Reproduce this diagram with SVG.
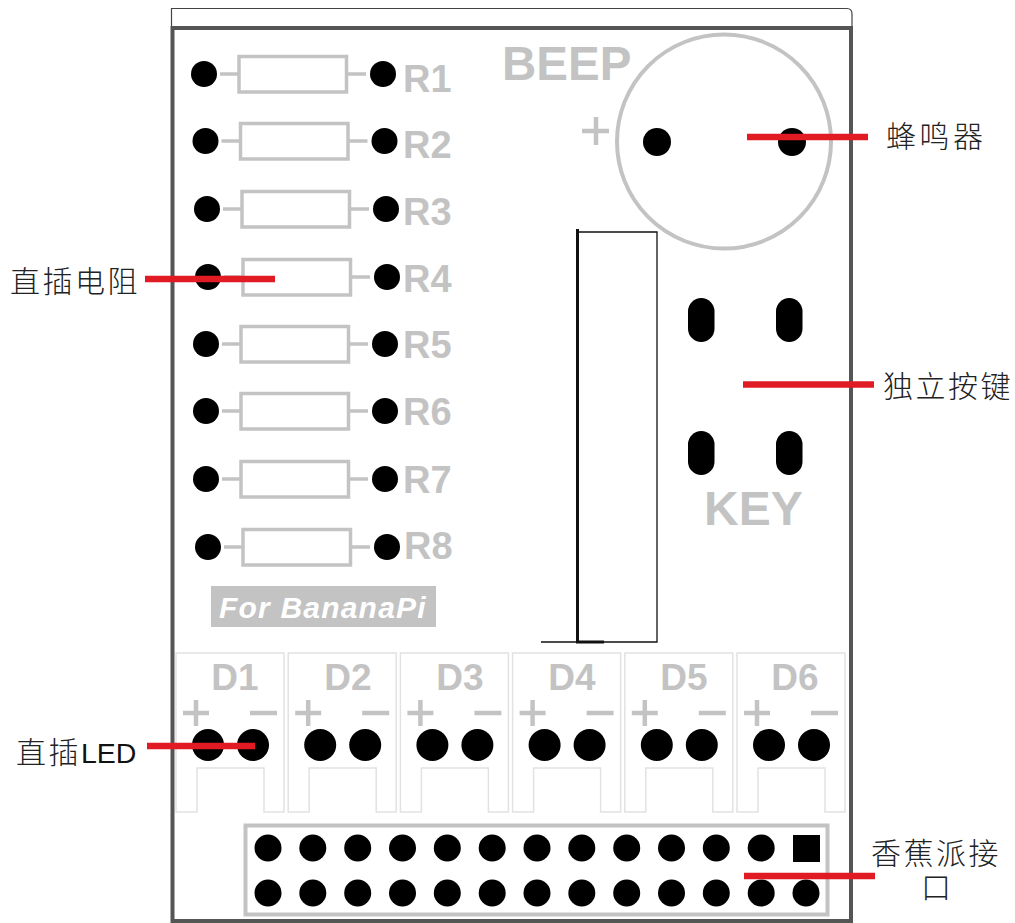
<svg xmlns="http://www.w3.org/2000/svg" width="1015" height="923" viewBox="0 0 1015 923">
<style>
.g{fill:none;stroke:#c3c3c3;stroke-width:3.500}
.th{fill:none;stroke:#e2e2e2;stroke-width:1.500}
.s{fill:none;stroke:#c3c3c3;stroke-width:4}
.p{fill:none;stroke:#c3c3c3;stroke-width:4.500}
.l{font-family:"Liberation Sans",Arial,sans-serif;font-weight:700;fill:#c3c3c3}
.c{font-family:"Noto Sans CJK SC","Liberation Sans",sans-serif;font-weight:300;font-size:30px;letter-spacing:2.500px;fill:#222}
.r{stroke:#e01b24;stroke-width:6.500;fill:none}
circle{fill:#000}
</style>
<defs>
<g id="res"><line class="g" x1="-163" x2="-144" y1="0" y2="0"/><rect class="g" x="-144" y="-17.500" width="107.500" height="35.500"/><line class="g" x1="-36.500" x2="-17" y1="0" y2="0"/><circle cx="-179" cy="0" r="13"/><circle cx="0" cy="0" r="13"/></g>
<g id="led"><path class="th" d="M0 0H108V159H88V115H21V159H0Z"/><line class="p" x1="20" x2="20" y1="47" y2="73"/><line class="p" x1="7" x2="33" y1="60" y2="60"/><line class="p" x1="74" x2="101" y1="60" y2="60"/><circle cx="32" cy="92" r="16"/><circle cx="77" cy="92" r="16"/></g>
</defs>
<rect width="1015" height="923" fill="#fff"/>
<g id="board">
<path d="M171.500 28V8.500H847Q852 8.500 852 14V28" fill="none" stroke="#444" stroke-width="1.200"/>
<rect x="172.500" y="28" width="678.500" height="893" fill="none" stroke="#555" stroke-width="4"/>
</g>
<g id="R1"><use href="#res" x="383" y="74"/><text class="l" x="403" y="92" font-size="38">R1</text></g>
<g id="R2"><use href="#res" x="384.500" y="141"/><text class="l" x="403" y="158" font-size="38">R2</text></g>
<g id="R3"><use href="#res" x="386" y="209"/><text class="l" x="403" y="225" font-size="38">R3</text></g>
<g id="R4"><use href="#res" x="387" y="277"/><text class="l" x="403" y="292" font-size="38">R4</text></g>
<g id="R5"><use href="#res" x="385" y="344"/><text class="l" x="403" y="358" font-size="38">R5</text></g>
<g id="R6"><use href="#res" x="385" y="411"/><text class="l" x="403" y="425" font-size="38">R6</text></g>
<g id="R7"><use href="#res" x="385" y="479"/><text class="l" x="403" y="493" font-size="38">R7</text></g>
<g id="R8"><use href="#res" x="387" y="547"/><text class="l" x="404" y="559" font-size="38">R8</text></g>
<g id="banana"><rect x="211" y="586" width="225" height="41" fill="#c3c3c3"/><text x="219" y="618" font-family="'Liberation Sans',Arial,sans-serif" font-weight="700" font-style="italic" font-size="30" letter-spacing="1.200" fill="#fff">For BananaPi</text></g>
<g id="beep">
<text class="l" x="502" y="80" font-size="47.500">BEEP</text>
<line class="p" x1="582" x2="609" y1="131" y2="131"/><line class="p" x1="596" x2="596" y1="117" y2="145"/>
<circle cx="724" cy="141.500" r="107" style="fill:none" stroke="#c3c3c3" stroke-width="4"/>
<circle cx="657" cy="142" r="14"/><circle cx="792" cy="142" r="14"/>
</g>
<g id="connector" fill="none" stroke="#111">
<path d="M578 232H657V642H541" stroke-width="1.300"/>
<path d="M577.500 229V642H604" stroke-width="3"/>
</g>
<g id="keys">
<rect x="688" y="298" width="26.500" height="44" rx="13.250"/><rect x="776" y="298" width="26.500" height="44" rx="13.250"/>
<rect x="688" y="431" width="26.500" height="44" rx="13.250"/><rect x="776" y="431" width="26.500" height="44" rx="13.250"/>
<text class="l" x="704" y="525" font-size="48">KEY</text>
</g>
<g id="D1"><use href="#led" x="176" y="653"/><text class="l" x="235" y="689.500" text-anchor="middle" font-size="37">D1</text></g>
<g id="D2"><use href="#led" x="288.200" y="653"/><text class="l" x="348" y="689.500" text-anchor="middle" font-size="37">D2</text></g>
<g id="D3"><use href="#led" x="400.400" y="653"/><text class="l" x="460" y="689.500" text-anchor="middle" font-size="37">D3</text></g>
<g id="D4"><use href="#led" x="512.600" y="653"/><text class="l" x="572" y="689.500" text-anchor="middle" font-size="37">D4</text></g>
<g id="D5"><use href="#led" x="624.800" y="653"/><text class="l" x="684" y="689.500" text-anchor="middle" font-size="37">D5</text></g>
<g id="D6"><use href="#led" x="737" y="653"/><text class="l" x="795" y="689.500" text-anchor="middle" font-size="37">D6</text></g>
<g id="header">
<rect class="s" x="245.500" y="825.500" width="582" height="89"/>
<circle cx="268" cy="848" r="13.500"/><circle cx="312.800" cy="848" r="13.500"/><circle cx="357.700" cy="848" r="13.500"/><circle cx="402.500" cy="848" r="13.500"/><circle cx="447.300" cy="848" r="13.500"/><circle cx="492.200" cy="848" r="13.500"/><circle cx="537" cy="848" r="13.500"/><circle cx="581.800" cy="848" r="13.500"/><circle cx="626.700" cy="848" r="13.500"/><circle cx="671.500" cy="848" r="13.500"/><circle cx="716.300" cy="848" r="13.500"/><circle cx="761.200" cy="848" r="13.500"/>
<rect x="793" y="835" width="27" height="27"/>
<circle cx="268" cy="893" r="13.500"/><circle cx="312.800" cy="893" r="13.500"/><circle cx="357.700" cy="893" r="13.500"/><circle cx="402.500" cy="893" r="13.500"/><circle cx="447.300" cy="893" r="13.500"/><circle cx="492.200" cy="893" r="13.500"/><circle cx="537" cy="893" r="13.500"/><circle cx="581.800" cy="893" r="13.500"/><circle cx="626.700" cy="893" r="13.500"/><circle cx="671.500" cy="893" r="13.500"/><circle cx="716.300" cy="893" r="13.500"/><circle cx="761.200" cy="893" r="13.500"/><circle cx="806" cy="893" r="13.500"/>
</g>
<g id="connectors">
<line class="r" x1="747" x2="868" y1="137" y2="137"/>
<line class="r" x1="145" x2="275" y1="279" y2="279"/>
<line class="r" x1="743" x2="874" y1="384.500" y2="384.500"/>
<line class="r" x1="147" x2="255" y1="746" y2="746"/>
<line class="r" x1="744" x2="875" y1="876" y2="876"/>
</g>
<g id="labels">
<text class="c" x="886" y="147" style="letter-spacing:3.500px">蜂鸣器</text>
<text class="c" x="10" y="292">直插电阻</text>
<text class="c" x="883" y="397">独立按键</text>
<text class="c" x="16" y="763">直插<tspan font-family="'Liberation Sans',Arial,sans-serif" font-size="28.500" style="letter-spacing:0" font-weight="400" fill="#111">LED</tspan></text>
<text class="c" x="871" y="864">香蕉派接<tspan x="921" y="898">口</tspan></text>
</g>
</svg>
